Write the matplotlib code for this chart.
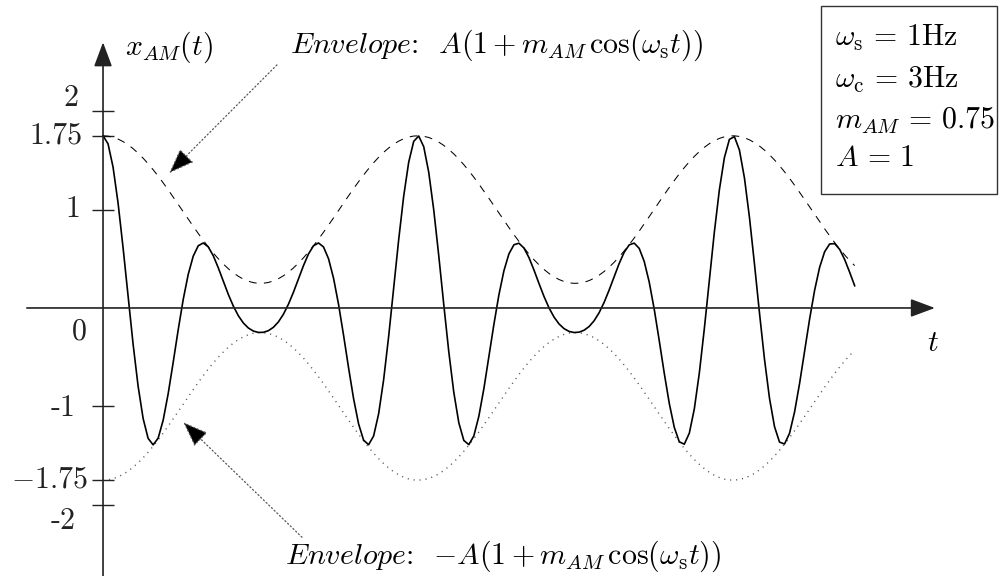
import numpy as np
import matplotlib
matplotlib.use('Agg')
import matplotlib.pyplot as plt
from matplotlib.patches import Rectangle

# signal parameters
omega_s = 1
omega_c = 3
m_am = 0.75
amp = 1
t_end = 15
n_samples = 151

y_ticks = [2, 1.75, 1, 0, -1, -1.75, -2]
y_tick_labels = ['2', '1.75', '1', '0', '-1', r'$-1.75$', '-2']
# label offsets (pixels) from the axis / tick
y_label_offsets = [(-25, 13), (-20, 0), (-23, 0), (-16, -24), (-28, -2), (-15, 0), (-27, -17)]

t = np.linspace(0, t_end, n_samples)
env = amp * (1 + m_am * np.cos(omega_s * t))
x_am = env * np.cos(omega_c * t)

plt.rcParams['font.family'] = 'cmr10'
plt.rcParams['mathtext.fontset'] = 'cm'
plt.rcParams['axes.unicode_minus'] = False
fs = 21.5

fig = plt.figure(figsize=(10, 5.76), dpi=100)
ax = fig.add_axes([0, 0, 1, 1])
ax.set_xlim(-2.056, 17.90)
ax.set_ylim(-2.724, 3.130)
for s in ax.spines.values():
    s.set_visible(False)
ax.spines['left'].set_position(('data', 0))

# axes with arrow heads
arrow_kw = dict(arrowstyle='-|>,head_length=0.75,head_width=0.28', color='#222222',
                lw=1.2, mutation_scale=20, shrinkA=0, shrinkB=0)
ax.annotate('', xy=(16.6, 0), xytext=(-1.52, 0), arrowprops=arrow_kw, annotation_clip=False)
ax.annotate('', xy=(0, 2.70), xytext=(0, -2.75), arrowprops=arrow_kw, annotation_clip=False)

# ticks on y axis, labels placed by hand
tick_vals = [v for v in y_ticks if v != 0]
ax.set_yticks(tick_vals)
ax.set_yticklabels([])
ax.set_xticks([])
ax.tick_params(axis='y', direction='inout', length=16, width=1.0, color='#222222')
for v, lab, (dx, dy) in zip(y_ticks, y_tick_labels, y_label_offsets):
    ax.annotate(lab, xy=(0, v), xytext=(dx, dy), textcoords='offset pixels',
                ha='right', va='center', fontsize=fs, color='#222222')

# curves
ax.plot(t, env, color='black', lw=0.75, linestyle=(0, (7.5, 7)))
ax.plot(t, -env, color='#555555', lw=1.0, linestyle=(0, (0.8, 3.5)))
ax.plot(t, x_am, color='black', lw=1.2)

# envelope annotations
ann_kw = dict(arrowstyle='-|>,head_length=0.8,head_width=0.3', linestyle=(0, (1, 2)),
              edgecolor='#555555', facecolor='black', lw=0.9, mutation_scale=20,
              shrinkA=0, shrinkB=0)
ax.annotate('', xy=(1.32, 1.37), xytext=(3.47, 2.47), arrowprops=ann_kw)
ax.annotate('', xy=(1.60, -1.16), xytext=(3.97, -2.33), arrowprops=ann_kw)

ax.text(0.44, 2.65, r'$x_{AM}(t)$', fontsize=fs, ha='left', va='center')
ax.text(3.73, 2.67, r'$\mathit{Envelope}$:  $A(1+m_{AM}\,\cos(\omega_\mathrm{s}t))$',
        fontsize=fs, ha='left', va='center')
ax.text(3.63, -2.52, r'$\mathit{Envelope}$:  $-A(1+m_{AM}\,\cos(\omega_\mathrm{s}t))$',
        fontsize=fs, ha='left', va='center')
ax.text(16.57, -0.36, r'$t$', fontsize=fs, ha='center', va='center')

# parameter box
fig.patches.append(Rectangle((0.821, 1 - 194 / 576), 0.176, 188 / 576,
                             transform=fig.transFigure, fill=False,
                             edgecolor='#333333', lw=1.0))
box_lines = [rf'$\omega_\mathrm{{s}}\,=\,{omega_s}\mathrm{{Hz}}$',
             rf'$\omega_\mathrm{{c}}\,=\,{omega_c}\mathrm{{Hz}}$',
             rf'$m_{{AM}}\,=\,{m_am}$',
             rf'$A\,=\,{amp}$']
box_y = [38, 80, 120, 158]
for line, yy in zip(box_lines, box_y):
    fig.text(0.835, 1 - yy / 576, line, fontsize=fs, ha='left', va='center')

fig.savefig('out.png', dpi=100)
